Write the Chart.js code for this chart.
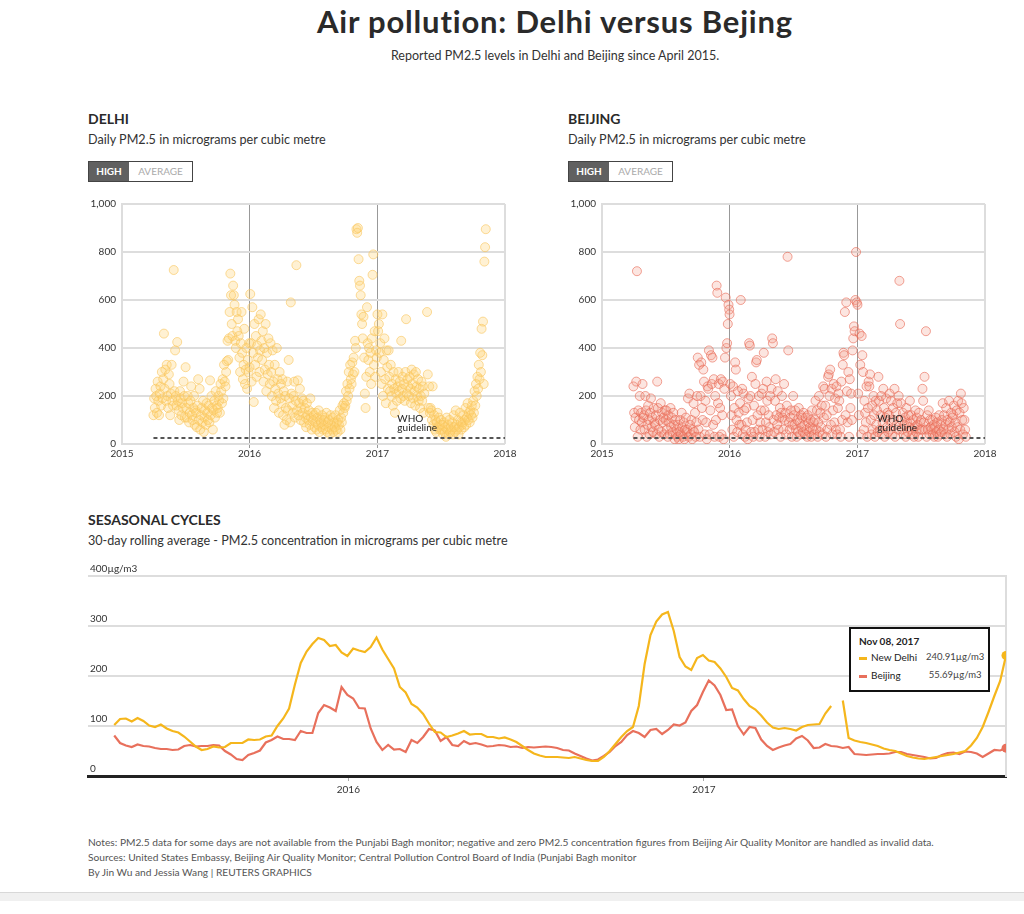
<!DOCTYPE html>
<html>
<head>
<meta charset="utf-8">
<title>Air pollution: Delhi versus Bejing</title>
<script src="https://cdn.jsdelivr.net/npm/chart.js@4.4.1/dist/chart.umd.min.js"></script>
<style>
  body { margin: 0; background: #fff; font-family: Lato, "Open Sans", sans-serif; color: #333; }
  #page { position: relative; width: 1024px; height: 914px; overflow: hidden; }
  .t { position: absolute; margin: 0; white-space: nowrap; line-height: 1.2; }
  h1.t { left: 555px; top: 3px; transform: translateX(-50%); font-size: 31px; letter-spacing: 0.8px; font-weight: 700; color: #2a2a2a; }
  .sub { left: 555px; top: 48px; transform: translateX(-50%); font-size: 12.5px; color: #333; }
  .head { font-size: 14px; font-weight: 700; color: #2a2a2a; }
  .desc { font-size: 12.6px; color: #333; }
  .btns { position: absolute; top: 161px; height: 21px; display: flex; border: 1px solid #444; box-sizing: border-box; font-size: 10px; }
  .btns span { display: block; line-height: 19px; text-align: center; }
  .btns .on { width: 40px; background: #606060; color: #fff; font-weight: 700; }
  .btns .off { width: 63px; background: #fff; color: #aaa; }
  .box { position: absolute; }
  .notes { left: 88px; top: 835px; font-size: 10.2px; line-height: 15px; color: #555; }
  #foot { position: absolute; left: 0; top: 892px; width: 1024px; height: 8px; background: #f0f0f0; border-top: 1px solid #d8d8d8; }
  #tip { position: absolute; box-sizing: border-box; width: 141px; height: 65px; padding: 5px 0 0 8px; border: 2px solid #111; background: #fff; opacity: 0; }
  #tip .tt { font-size: 10px; font-weight: 700; line-height: 14px; color: #222; }
  #tip table { border-collapse: collapse; }
  #tip td { padding: 0; line-height: 18px; font-size: 10px; color: #222; }
  #tip td.lab { width: 67px; }
  #tip td.val { width: 58px; text-align: center; font-size: 9.5px; color: #444; }
  #tip .sw { display: inline-block; width: 8px; height: 3px; margin-right: 4px; vertical-align: middle; }
</style>
</head>
<body>
<div id="page">
  <h1 class="t">Air pollution: Delhi versus Bejing</h1>
  <div class="t sub">Reported PM2.5 levels in Delhi and Beijing since April 2015.</div>

  <div class="t head" style="left:88px; top:111px;">DELHI</div>
  <div class="t desc" style="left:88px; top:132px;">Daily PM2.5 in micrograms per cubic metre</div>
  <div class="btns" style="left:88px;"><span class="on">HIGH</span><span class="off">AVERAGE</span></div>
  <div class="box" style="left:80px; top:192px; width:440px; height:275px;"><canvas id="delhiChart"></canvas></div>

  <div class="t head" style="left:568px; top:111px;">BEIJING</div>
  <div class="t desc" style="left:568px; top:132px;">Daily PM2.5 in micrograms per cubic metre</div>
  <div class="btns" style="left:568px;"><span class="on">HIGH</span><span class="off">AVERAGE</span></div>
  <div class="box" style="left:560px; top:192px; width:440px; height:275px;"><canvas id="beijingChart"></canvas></div>

  <div class="t head" style="left:88px; top:512px;">SESASONAL CYCLES</div>
  <div class="t desc" style="left:88px; top:533px;">30-day rolling average - PM2.5 concentration in micrograms per cubic metre</div>
  <div class="box" id="seasonBox" style="left:80px; top:560px; width:940px; height:245px;"><canvas id="seasonChart"></canvas></div>
  <div id="tip"></div>

  <div class="t notes">Notes: PM2.5 data for some days are not available from the Punjabi Bagh monitor; negative and zero PM2.5 concentration figures from Beijing Air Quality Monitor are handled as invalid data.<br>Sources: United States Embassy, Beijing Air Quality Monitor; Central Pollution Control Board of India (Punjabi Bagh monitor<br>By Jin Wu and Jessia Wang | REUTERS GRAPHICS</div>
  <div id="foot"></div>
</div>

<script>
// days are counted from 1 Jan 2015
const DAY0 = Date.UTC(2015, 0, 1);
const SCATTER_STEP = 2;   // one daily high every second day
const ROLL_STEP = 6;      // rolling average read every sixth day

const yearTicks = [0, 365, 731, 1096];
const yearLabels = ['2015', '2016', '2017', '2018'];
const seasonTicks = [365, 731];
const seasonLabels = ['2016', '2017'];
const seasonRange = [97, 1042];
const whoGuideline = 25;
const whoLabelDay = 788;

// Delhi daily high, from 1 Apr 2015
const delhi2015Start = 90;
const delhi2015 = [
  120, 190, 150, 230, 200, 130, 260, 180, 120, 210, 240, 160, 300, 190, 270,
  460, 230, 310, 180, 330, 200, 150, 290, 250, 120, 210, 330, 180, 160, 725, 220,
  390, 200, 160, 425, 180, 140, 100, 220, 190, 120, 170, 150, 260, 200, 110,
  320, 150, 110, 200, 170, 90, 130, 180, 240, 120, 100, 150, 200, 80, 140,
  130, 70, 160, 270, 100, 230, 60, 120, 150, 90, 180, 50, 110, 140, 80, 170,
  130, 100, 160, 90, 265, 120, 200, 150, 60, 140, 180, 110, 220, 160, 130,
  150, 200, 180, 130, 250, 220, 170, 270, 190, 330, 260, 240, 300, 345, 430,
  350, 440, 550, 710, 620, 500, 450, 660, 620, 580, 430, 400, 550, 470, 520,
  450, 360, 300, 420, 550, 380, 270, 330, 480, 250, 310, 400, 230, 350, 300, 420
];
const delhi2016Start = 365;
const delhi2016 = [
  320, 625, 420, 260, 570, 380, 175, 500, 330, 450, 280, 410, 360, 520, 300, 390,
  540, 430, 350, 470, 260, 400, 310, 500, 220, 380, 290, 440, 330, 250,
  420, 300, 200, 390, 260, 150, 330, 230, 180, 400, 270, 210, 130, 300, 190, 250,
  170, 270, 120, 220, 80, 200, 150, 100, 260, 140, 350, 190, 90, 590, 210,
  160, 130, 200, 260, 110, 180, 745, 140, 265, 120, 170, 230, 100, 150, 190,
  130, 180, 90, 150, 110, 70, 170, 120, 100, 140, 80, 190, 110, 60, 130,
  100, 120, 70, 90, 130, 60, 110, 80, 140, 50, 100, 90, 70, 120, 60, 100,
  80, 110, 60, 130, 50, 90, 70, 100, 40, 120, 80, 60, 110, 50, 90,
  70, 120, 60, 90, 50, 100, 80, 140, 60, 110, 90, 160, 130, 170, 150,
  160, 220, 180, 250, 200, 300, 230, 330, 270, 250, 340, 290, 360, 300, 430, 400,
  895, 880, 900, 770, 680, 660, 620, 540, 500, 440, 530, 360, 210, 150, 280,
  570, 420, 350, 400, 300, 380, 250, 440, 705, 790, 330, 470, 280, 390, 360
];
const delhi2017Start = 731;
const delhi2017 = [
  540, 470, 500, 380, 420, 300, 250, 540, 200, 350, 440, 270, 170, 390, 320, 230,
  390, 280, 220, 330, 200, 250, 160, 300, 230, 130, 270, 210, 180, 240,
  300, 220, 260, 190, 430, 230, 280, 200, 250, 180, 300, 520, 210, 270, 240,
  200, 280, 230, 170, 310, 250, 190, 290, 220, 160, 300, 240, 200, 270, 180,
  230, 150, 200, 260, 180, 240, 130, 210, null, null, null, 550, 290, 150, 240, 130,
  150, 140, 100, 240, 80, 120, 60, 100, 50, 90, 130, 70, 110, 60, 80,
  100, 60, 80, 40, 90, 50, 70, 30, 110, 60, 80, 40, 100, 50, 70,
  60, 90, 40, 120, 70, 50, 140, 80, 60, 100, 40, 70, 130, 90, 60, 80,
  90, 120, 70, 100, 150, 80, 110, 170, 100, 130, 90, 140, 120, 160, 110,
  180, 130, 220, 160, 250, 200, 280, 230, 330, 270, 380, 300, 480, 370, 510,
  250, 760, 820, 895
];

// Beijing daily high, from 1 Apr 2015
const beijing2015Start = 90;
const beijing2015 = [
  240, 130, 70, 110, 260, 720, 30, 140, 100, 200, 60, 130, 90, 250, 110,
  120, 60, 200, 140, 30, 80, 160, 100, 40, 130, 190, 70, 110, 50, 150, 90,
  80, 120, 40, 260, 150, 60, 30, 100, 170, 50, 130, 90, 110, 40, 140,
  100, 140, 60, 30, 120, 90, 40, 150, 70, 110, 50, 130, 80, 20, 100,
  40, 60, 30, 80, 20, 50, 100, 40, 130, 70, 30, 90, 20, 60, 110, 50,
  60, 190, 30, 210, 80, 40, 100, 20, 60, 170, 50, 130, 30, 90, 200,
  360, 60, 330, 30, 200, 340, 150, 100, 310, 260, 40, 180, 90, 20, 240,
  230, 390, 40, 140, 370, 250, 360, 80, 270, 30, 200, 100, 660, 630, 170,
  250, 30, 150, 270, 40, 120, 260, 20, 230, 360, 610, 400, 420, 500, 580, 560
];
const beijing2016Start = 365;
const beijing2016 = [
  540, 250, 200, 120, 60, 240, 30, 150, 340, 310, 100, 50, 220, 130, 80, 170,
  600, 80, 230, 40, 210, 140, 30, 60, 150, 90, 20, 190, 420, 410,
  200, 50, 280, 100, 30, 160, 50, 250, 340, 350, 120, 60, 200, 30, 90, 140,
  210, 60, 230, 380, 140, 30, 90, 260, 180, 50, 120, 70, 200, 40, 230,
  440, 420, 100, 50, 180, 270, 120, 80, 220, 60, 110, 150, 30, 130, 200,
  110, 60, 250, 100, 130, 40, 160, 780, 390, 90, 60, 110, 140, 30, 80,
  200, 120, 80, 140, 60, 30, 100, 50, 150, 90, 40, 120, 70, 110, 50, 130,
  80, 40, 110, 60, 30, 120, 90, 50, 70, 100, 30, 140, 60, 90, 40,
  100, 180, 60, 140, 30, 90, 200, 50, 130, 70, 160, 40, 240, 110, 230,
  160, 30, 120, 60, 280, 290, 200, 310, 80, 230, 40, 140, 250, 90, 190, 60,
  240, 40, 150, 210, 180, 60, 30, 260, 100, 330, 380, 370, 550, 120, 590,
  220, 90, 300, 30, 270, 150, 210, 100, 390, 440, 490, 470, 600, 800, 590
];
const beijing2017Start = 731;
const beijing2017 = [
  580, 210, 120, 460, 330, 40, 450, 370, 300, 60, 180, 130, 90, 240, 30, 150,
  260, 240, 290, 100, 40, 160, 60, 200, 120, 30, 180, 80, 140, 50,
  280, 180, 60, 120, 200, 40, 90, 230, 150, 30, 110, 190, 70, 130, 50,
  120, 210, 60, 180, 90, 40, 150, 100, 230, 30, 130, 80, 170, 60, 200,
  680, 500, 170, 100, 60, 130, 40, 80, 110, 30, 150, 90, 50, 120, 70, 180,
  90, 120, 60, 40, 100, 30, 70, 140, 50, 110, 80, 30, 130, 60, 90,
  100, 60, 230, 180, 90, 280, 60, 470, 30, 120, 60, 140, 40, 100, 70,
  60, 100, 40, 80, 30, 70, 110, 50, 90, 30, 60, 120, 40, 80, 50, 100,
  170, 60, 120, 40, 80, 150, 30, 100, 60, 180, 90, 40, 130, 70, 110,
  120, 160, 50, 90, 30, 140, 70, 180, 20, 130, 60, 210, 170, 100, 40,
  150, 100, 60, 30
];

// 30-day rolling averages, from 5 May 2015 to 8 Nov 2017
const rollingStart = 124;
const delhiRolling = [
  102, 114, 115, 109, 116, 110, 101, 98, 103, 95,
  90, 87, 79, 69, 59, 52, 54, 59, 57, 58,
  66, 66, 66, 73, 72, 73, 79, 81, 100, 115,
  135, 183, 226, 249, 264, 276, 272, 260, 262, 247,
  240, 255, 251, 248, 258, 277, 253, 234, 215, 178,
  167, 144, 137, 124, 105, 88, 87, 78, 81, 85,
  90, 83, 84, 84, 78, 78, 75, 77, 73, 68,
  60, 52, 45, 41, 38, 38, 38, 37, 36, 38,
  35, 32, 30, 30, 38, 50, 64, 78, 90, 98,
  140, 224, 282, 309, 323, 328, 290, 238, 219, 212,
  236, 242, 231, 228, 215, 198, 176, 171, 154, 140,
  133, 121, 107, 97, 94, 96, 94, 91, 98, 102,
  103, 104, 125, 140, null, 151, 76, 71, 68, 66,
  63, 60, 55, 52, 50, 45, 40, 37, 35, 34,
  36, 38, 40, 42, 44, 47, 50, 61, 76, 98,
  128, 160, 190, 240.91
];
const beijingRolling = [
  81, 66, 61, 58, 63, 60, 59, 56, 54, 54,
  52, 53, 60, 62, 59, 60, 60, 62, 61, 50,
  43, 34, 32, 42, 46, 51, 67, 72, 79, 74,
  74, 72, 90, 86, 86, 126, 142, 137, 130, 178,
  162, 155, 136, 135, 95, 68, 52, 62, 53, 54,
  48, 72, 66, 78, 94, 91, 70, 78, 62, 60,
  70, 64, 66, 63, 59, 60, 62, 61, 58, 59,
  56, 58, 57, 58, 59, 58, 56, 52, 51, 45,
  40, 35, 31, 33, 40, 48, 60, 68, 82, 90,
  86, 78, 92, 94, 84, 92, 103, 101, 107, 130,
  142, 168, 191, 181, 162, 132, 133, 100, 83, 98,
  96, 73, 60, 52, 57, 61, 64, 75, 80, 71,
  56, 57, 64, 60, 59, 56, 58, 44, 43, 42,
  43, 44, 44, 45, 48, 48, 44, 42, 40, 38,
  35, 36, 42, 46, 47, 44, 49, 48, 45, 38,
  45, 52, 51, 55.69
];

Chart.defaults.font.family = "Lato, 'Open Sans', sans-serif";
Chart.defaults.color = '#333';

function toPoints(values, start, step) {
  return values.map((v, i) => ({ x: start + i * step, y: v }));
}

function fmtDate(day) {
  const d = new Date(DAY0 + day * 86400000);
  const m = ['Jan', 'Feb', 'Mar', 'Apr', 'May', 'Jun', 'Jul', 'Aug', 'Sep', 'Oct', 'Nov', 'Dec'][d.getUTCMonth()];
  return m + ' ' + String(d.getUTCDate()).padStart(2, '0') + ', ' + d.getUTCFullYear();
}

function isEdge(c) {
  return c.tick && (c.tick.value === yearTicks[0] || c.tick.value === yearTicks[yearTicks.length - 1]);
}

const whoLabel = {
  id: 'whoLabel',
  afterDatasetsDraw(chart) {
    const ctx = chart.ctx;
    const px = chart.scales.x.getPixelForValue(whoLabelDay);
    const py = chart.scales.y.getPixelForValue(whoGuideline);
    ctx.save();
    ctx.font = "10px Lato, 'Open Sans', sans-serif";
    ctx.fillStyle = '#222';
    ctx.textAlign = 'left';
    ctx.fillText('WHO', px, py - 16);
    ctx.fillText('guideline', px, py - 7);
    ctx.restore();
  }
};

function createScatter(id, series, fill, stroke) {
  const points = [].concat(...series.map(s => toPoints(s[1], s[0], SCATTER_STEP)));
  return new Chart(document.getElementById(id), {
    type: 'scatter',
    data: {
      datasets: [
        {
          type: 'line',
          data: [{ x: series[0][0], y: whoGuideline }, { x: yearTicks[3], y: whoGuideline }],
          borderColor: '#555',
          borderWidth: 2,
          borderDash: [4, 3],
          pointRadius: 0,
          order: 0
        },
        {
          data: points,
          backgroundColor: fill,
          borderColor: stroke,
          borderWidth: 1,
          pointRadius: 4.5,
          order: 1
        }
      ]
    },
    options: {
      responsive: true,
      maintainAspectRatio: false,
      animation: false,
      events: [],
      layout: { padding: { top: 12, right: 15, bottom: 1, left: 0 } },
      plugins: { legend: { display: false }, tooltip: { enabled: false } },
      scales: {
        x: {
          type: 'linear',
          min: yearTicks[0],
          max: yearTicks[3],
          afterBuildTicks: s => { s.ticks = yearTicks.map(v => ({ value: v })); },
          afterFit: s => { s.height = 22; },
          ticks: {
            callback: v => yearLabels[yearTicks.indexOf(v)],
            font: { size: 10 },
            padding: 0,
            maxRotation: 0,
            autoSkip: false
          },
          grid: {
            color: c => isEdge(c) ? '#ddd' : '#999',
            lineWidth: c => isEdge(c) ? 2 : 1,
            tickColor: c => isEdge(c) ? 'rgba(0,0,0,0)' : '#999',
            tickLength: 4
          },
          border: { display: false }
        },
        y: {
          min: 0,
          max: 1000,
          afterFit: s => { s.width = 42; },
          ticks: {
            stepSize: 200,
            callback: v => v.toLocaleString('en-US'),
            font: { size: 10 },
            padding: 6
          },
          grid: { color: '#ddd', lineWidth: 2, drawTicks: false },
          border: { color: '#ddd', width: 2 }
        }
      }
    },
    plugins: [whoLabel]
  });
}

createScatter('delhiChart',
  [[delhi2015Start, delhi2015], [delhi2016Start, delhi2016], [delhi2017Start, delhi2017]],
  'rgba(255, 208, 110, 0.3)', 'rgba(248, 196, 92, 0.6)');

createScatter('beijingChart',
  [[beijing2015Start, beijing2015], [beijing2016Start, beijing2016], [beijing2017Start, beijing2017]],
  'rgba(243, 150, 130, 0.25)', 'rgba(232, 104, 84, 0.6)');

// tooltip box for the latest day
function drawTip(context) {
  const { chart, tooltip } = context;
  const tip = document.getElementById('tip');
  if (!tooltip.dataPoints || !tooltip.dataPoints.length) return;
  const rows = tooltip.dataPoints.map(dp =>
    '<tr><td class="lab"><span class="sw" style="background:' + dp.dataset.borderColor + '"></span>' +
    dp.dataset.label + '</td><td class="val">' + dp.parsed.y.toFixed(2) + 'µg/m3</td></tr>').join('');
  tip.innerHTML = '<div class="tt">' + fmtDate(tooltip.dataPoints[0].parsed.x) + '</div><table>' + rows + '</table>';
  const box = document.getElementById('seasonBox');
  tip.style.left = (box.offsetLeft + chart.chartArea.right - 157) + 'px';
  tip.style.top = (box.offsetTop + chart.chartArea.top + 51) + 'px';
  tip.style.opacity = 1;
}

const delhiColor = '#f5b61c';
const beijingColor = '#e8705c';

const season = new Chart(document.getElementById('seasonChart'), {
  type: 'line',
  data: {
    datasets: [
      {
        label: 'New Delhi',
        data: toPoints(delhiRolling, rollingStart, ROLL_STEP),
        borderColor: delhiColor,
        backgroundColor: delhiColor,
        borderWidth: 2.2,
        pointRadius: 0,
        pointHoverRadius: 4.5,
        pointHoverBorderWidth: 0,
        pointHoverBackgroundColor: delhiColor,
        spanGaps: false
      },
      {
        label: 'Beijing',
        data: toPoints(beijingRolling, rollingStart, ROLL_STEP),
        borderColor: beijingColor,
        backgroundColor: beijingColor,
        borderWidth: 2.2,
        pointRadius: 0,
        pointHoverRadius: 4.5,
        pointHoverBorderWidth: 0,
        pointHoverBackgroundColor: beijingColor
      }
    ]
  },
  options: {
    responsive: true,
    maintainAspectRatio: false,
    animation: false,
    events: [],
    layout: { padding: { top: 16, right: 14, bottom: 0, left: 0 } },
    plugins: {
      legend: { display: false },
      tooltip: { enabled: false, mode: 'index', intersect: false, external: drawTip }
    },
    scales: {
      x: {
        type: 'linear',
        min: seasonRange[0],
        max: seasonRange[1],
        afterBuildTicks: s => { s.ticks = seasonTicks.map(v => ({ value: v })); },
        afterFit: s => { s.height = 29; },
        ticks: {
          callback: v => seasonLabels[seasonTicks.indexOf(v)],
          font: { size: 10 },
          padding: 3,
          maxRotation: 0,
          autoSkip: false
        },
        grid: { drawOnChartArea: false, tickLength: 5, tickColor: '#aaa', color: '#aaa' },
        border: { color: '#222', width: 3 }
      },
      y: {
        min: 0,
        max: 400,
        afterFit: s => { s.width = 8; },
        ticks: {
          stepSize: 100,
          mirror: true,
          padding: 2,
          labelOffset: -7,
          callback: v => v === 400 ? '400µg/m3' : v,
          font: { size: 10 }
        },
        grid: {
          color: c => c.tick && c.tick.value === 0 ? 'rgba(0,0,0,0)' : '#ddd',
          lineWidth: 2,
          drawTicks: false
        },
        border: { display: false }
      },
      yEdge: {
        position: 'right',
        display: true,
        min: 0,
        max: 400,
        afterFit: s => { s.width = 0; },
        ticks: { display: false },
        grid: { display: false },
        border: { color: '#ddd', width: 2 }
      }
    }
  }
});

const lastIndex = delhiRolling.length - 1;
const active = [{ datasetIndex: 0, index: lastIndex }, { datasetIndex: 1, index: lastIndex }];
season.setActiveElements(active);
season.tooltip.setActiveElements(active, { x: season.chartArea.right, y: season.chartArea.top });
season.draw();
</script>
</body>
</html>
